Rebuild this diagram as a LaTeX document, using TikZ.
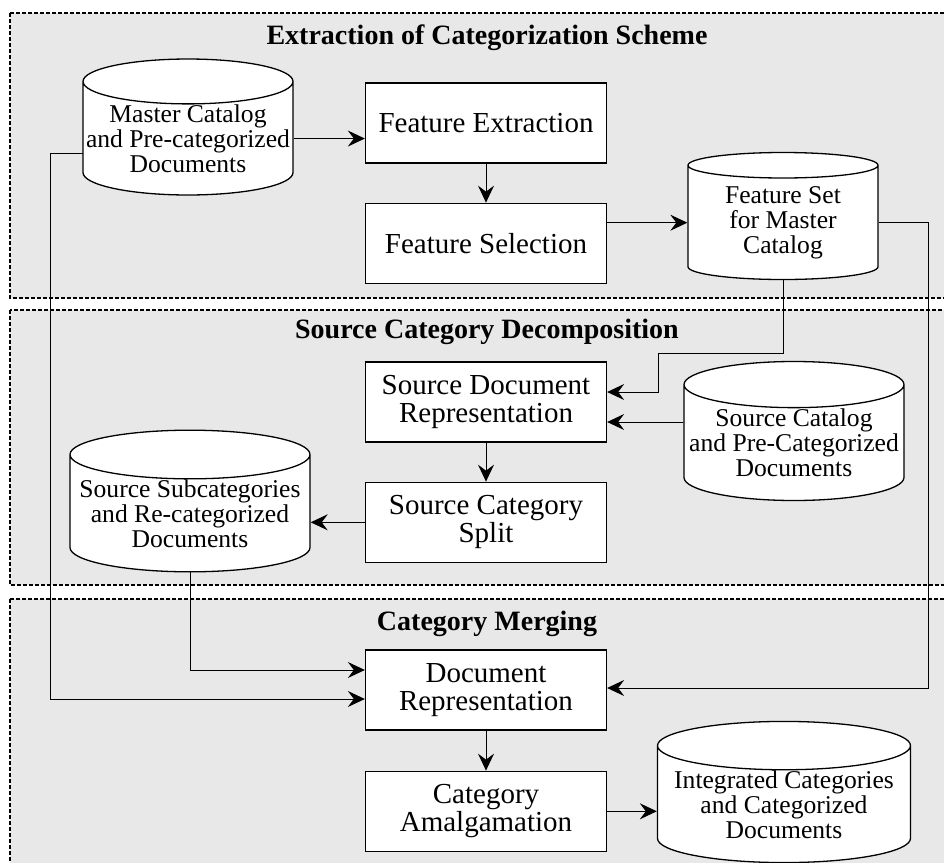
\documentclass[tikz,border=0pt]{standalone}
\usepackage{fontspec}
\setmainfont{Liberation Serif}
\usetikzlibrary{arrows.meta,shapes.geometric,positioning}

\begin{document}
\begin{tikzpicture}[x=0.5pt,y=-0.5pt,>={Stealth[length=8.5pt,width=8pt,inset=3pt]},
	Edge/.style={->,black,line width=0.5pt},
	Panel/.style={draw=black,fill=gray!18,dash pattern=on 2pt off 1pt,line width=0.8pt},
	PanelTitle/.style={anchor=base,font=\fontsize{14}{15}\selectfont\bfseries},
	StepBox/.style={rectangle,fill=white,draw=black,line width=0.65pt,minimum width=120.5pt,minimum height=40pt,align=center,font=\fontsize{14.5}{14}\selectfont},
	Store/.style={cylinder,shape border rotate=90,aspect=0.22,fill=white,draw=black,line width=0.65pt,align=center,inner xsep=0pt,inner ysep=0pt,anchor=shape center,font=\fontsize{12.8}{12.5}\selectfont},
]
\clip (0,0) rectangle (944,863);

% the three stages
\draw[Panel] (10,13) rectangle (960,298);
\draw[Panel] (10,310) rectangle (960,585);
\draw[Panel] (10,599) rectangle (960,890);
\node[PanelTitle] (T1) at (487,44) {Extraction of Categorization Scheme};
\node[PanelTitle] (T2) at (487,338) {Source Category Decomposition};
\node[PanelTitle] (T3) at (487,630) {Category Merging};

% stage 1
\node[Store,minimum width=105pt,minimum height=65pt] (MC) at (188,127) {Master Catalog\\and Pre-categorized\\Documents};
\node[StepBox] (FE) at (486,123) {Feature Extraction};
\node[StepBox] (FS)[below=19.5pt of FE] {Feature Selection};
\node[Store,minimum width=95pt,minimum height=63.5pt] (FM) at (783,216) {Feature Set\\for Master\\Catalog};

% stage 2
\node[StepBox] (SR) at (486,402) {Source Document\\Representation};
\node[StepBox] (SS)[below=19.5pt of SR] {Source Category\\Split};
\node[Store,minimum width=110pt,minimum height=69.5pt] (SC) at (794,431) {Source Catalog\\and Pre-Categorized\\Documents};
\node[Store,minimum width=120pt,minimum height=64.5pt] (SU) at (190,501) {Source Subcategories\\and Re-categorized\\Documents};

% stage 3
\node[StepBox] (DR) at (486,690) {Document\\Representation};
\node[StepBox] (CA)[below=20pt of DR] {Category\\Amalgamation};
\node[Store,minimum width=126.5pt,minimum height=65pt] (IC) at (784,792) {Integrated Categories\\and Categorized\\Documents};

% bends of the long connectors
\coordinate (mcOut) at (83,153);
\coordinate (mcBend) at (50,153);
\coordinate (drLow) at ([yshift=-4.5pt]DR.west);
\coordinate (drHigh) at ([yshift=10pt]DR.west);
\coordinate (fmBend) at (928,688);
\coordinate (fmDrop) at (658,353);
\coordinate (srHigh) at ([yshift=5pt]SR.east);
\coordinate (srLow) at ([yshift=-10pt]SR.east);

\draw[Edge] (MC.east) -- (FE.west |- MC.east);
\draw[Edge] (FE) -- (FS);
\draw[Edge] (FS.east |- FM.west) -- (FM.west);
\draw[Edge] (FM.south) |- (fmDrop) |- (srHigh);
\draw[Edge] (FM.east) -| (fmBend) -- (DR.east |- fmBend);
\draw[Edge] (SC.west |- srLow) -- (srLow);
\draw[Edge] (SR) -- (SS);
\draw[Edge] (SS.west) -- (SU.east |- SS.west);
\draw[Edge] (SU.south) |- (drHigh);
\draw[Edge] (mcOut) -- (mcBend) |- (drLow);
\draw[Edge] (DR) -- (CA);
\draw[Edge] (CA.east) -- (IC.west |- CA.east);
\end{tikzpicture}
\end{document}
